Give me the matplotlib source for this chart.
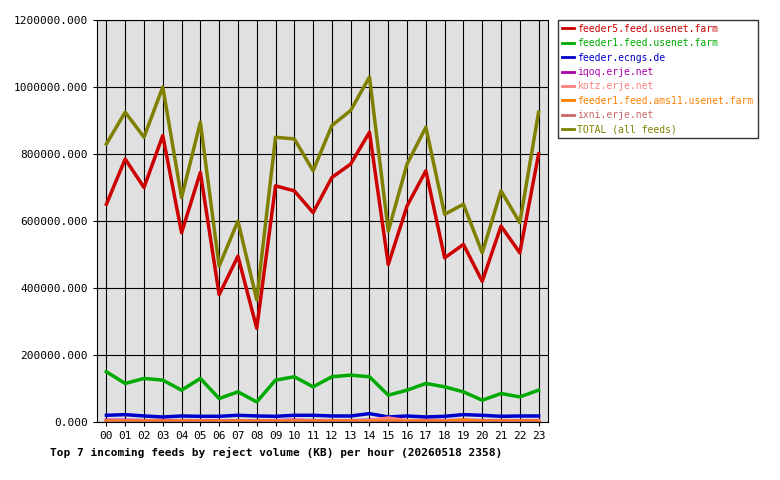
import matplotlib
matplotlib.use("Agg")
import matplotlib.pyplot as plt

hours = [f"{h:02d}" for h in range(24)]
feeder5 = [650,785,700,855,565,745,380,495,280,705,690,625,730,770,865,470,645,750,490,530,420,585,505,800]
feeder1 = [150,115,130,125,95,130,70,90,60,125,135,105,135,140,135,80,95,115,105,90,65,85,75,95]
ecngs = [20,22,18,15,18,17,17,20,18,17,20,20,18,18,25,15,18,15,17,22,20,17,18,18]
iqoq = [5,5,4,4,4,4,3,4,3,4,5,4,4,4,5,4,4,4,4,5,4,4,4,4]
kotz = [3,3,3,3,3,3,2,3,2,3,3,3,3,3,4,12,4,3,3,3,3,3,3,3]
ams11 = [2,2,2,2,2,2,2,2,2,2,2,2,2,2,2,2,2,2,2,6,2,2,2,2]
ixni = [1,1,1,1,1,1,1,1,1,1,1,1,1,1,1,1,1,1,1,1,1,1,1,1]
total = [830,925,850,1000,670,895,465,600,365,850,845,750,885,930,1030,570,770,880,620,650,505,690,595,925]

series = [
    ("feeder5.feed.usenet.farm", feeder5, "#cc0000"),
    ("feeder1.feed.usenet.farm", feeder1, "#00aa00"),
    ("feeder.ecngs.de", ecngs, "#0000cc"),
    ("iqoq.erje.net", iqoq, "#aa00aa"),
    ("kotz.erje.net", kotz, "#ff8080"),
    ("feeder1.feed.ams11.usenet.farm", ams11, "#ff8000"),
    ("ixni.erje.net", ixni, "#cc6666"),
    ("TOTAL (all feeds)", total, "#808000"),
]

plt.rcParams['font.family'] = ['DejaVu Sans Mono']
fig = plt.figure(figsize=(7.8, 4.8), dpi=100)
ax = fig.add_axes([97/780, 58/480, 451/780, 402/480])
ax.set_facecolor("#e0e0e0")
x = list(range(24))
handles = []
for name, vals, col in series:
    h, = ax.plot(x, [v*1000 for v in vals], color=col, lw=2.5 if name != "ixni.erje.net" else 1.5, label=name)
    handles.append(h)
ax.set_xlim(-0.5, 23.5)
ax.set_ylim(0, 1200000)
ax.set_xticks(x)
ax.set_xticklabels(hours, fontsize=8)
yt = list(range(0, 1200001, 200000))
ax.set_yticks(yt)
ax.set_yticklabels([f"{v}.000" for v in yt], fontsize=8)
ax.grid(True, color="black", lw=0.8)
ax.set_axisbelow(True)
ax.tick_params(length=3)
for s in ax.spines.values():
    s.set_color("black")
fig.text(50/780, 1-452/480, "Top 7 incoming feeds by reject volume (KB) per hour (20260518 2358)",
         fontsize=8, fontweight="bold", va="center")
leg = fig.legend(handles=handles, loc="upper left", bbox_to_anchor=(558/780, 1-20/480),
                 fontsize=7, frameon=True, fancybox=False, edgecolor="black",
                 handlelength=1.2, handletextpad=0.4, labelspacing=0.45,
                 borderaxespad=0, borderpad=0.4)
for t, (_, _, c) in zip(leg.get_texts(), series):
    t.set_color(c)
for l in leg.get_lines():
    l.set_linewidth(2)
fig.savefig("out.png", dpi=100)
